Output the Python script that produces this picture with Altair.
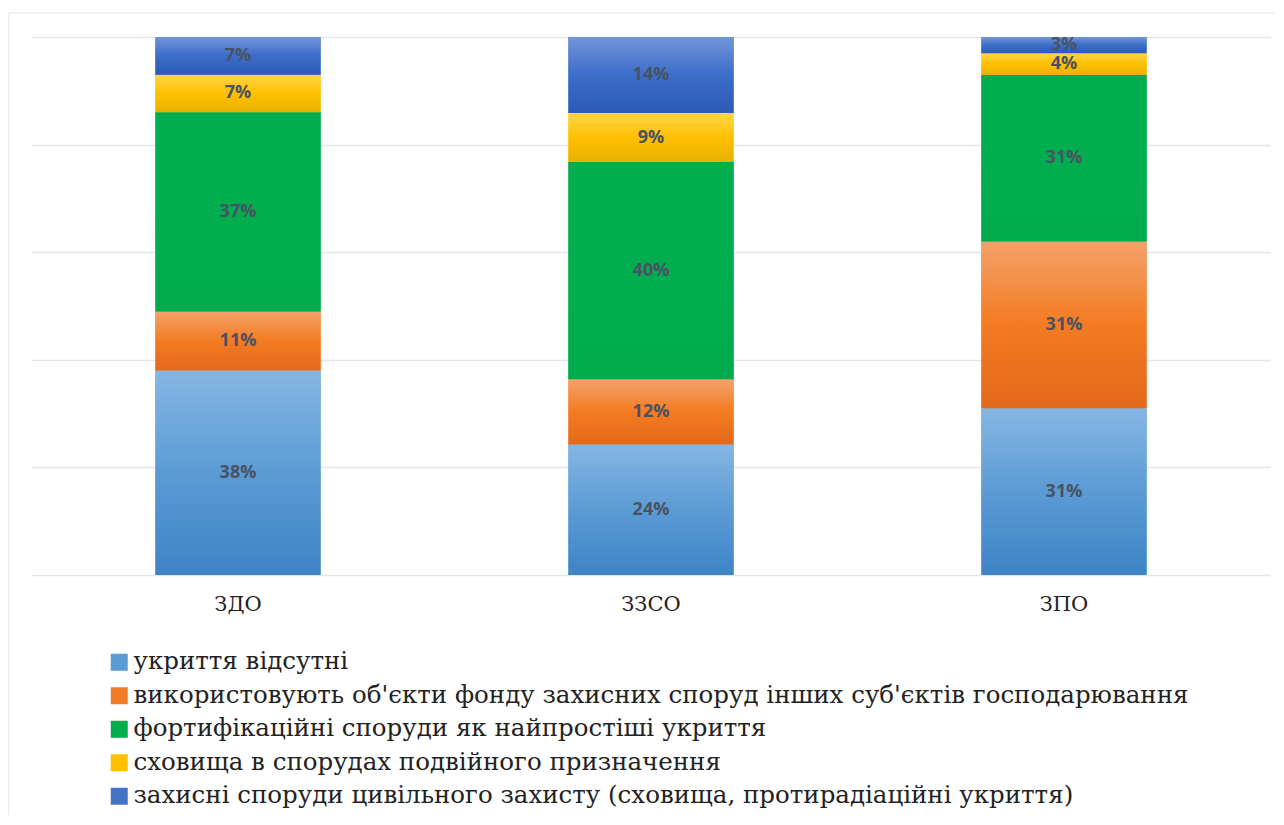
import altair as alt
import pandas as pd

categories = ["ЗДО", "ЗЗСО", "ЗПО"]
series = [
    "укриття відсутні",
    "використовують об'єкти фонду захисних споруд інших суб'єктів господарювання",
    "фортифікаційні споруди як найпростіші укриття",
    "сховища в спорудах подвійного призначення",
    "захисні споруди цивільного захисту (сховища, протирадіаційні укриття)",
]
no_shelter = [38, 24, 31]
other_owners = [11, 12, 31]
fortification = [37, 40, 31]
dual_purpose = [7, 9, 4]
civil_defense = [7, 14, 3]

colors = ["#5b9bd5", "#f07c28", "#00ad4f", "#ffc000", "#4472c4"]
grad_stops = [
    ["#86b6e3", "#5b9bd5", "#3d84c6"],
    ["#f4a26b", "#f37b22", "#e2691a"],
    ["#00ad4f", "#00ad4f", "#00ab4d"],
    ["#ffd54c", "#ffc000", "#e9b000"],
    ["#7295d9", "#3b6dc9", "#2d5bb7"],
]

all_vals = [no_shelter, other_owners, fortification, dual_purpose, civil_defense]
rows = []
for si, (s, vals) in enumerate(zip(series, all_vals)):
    for c, v in zip(categories, vals):
        rows.append({"cat": c, "series": s, "order": si, "value": v})
df = pd.DataFrame(rows)

SERIF = "'DejaVu Serif', 'Liberation Serif', serif"

base = alt.Chart(df).transform_stack(
    stack="value",
    groupby=["cat"],
    sort=[alt.SortField("order", order="ascending")],
    offset="normalize",
    as_=["y0", "y1"],
).transform_calculate(
    ym="(datum.y0 + datum.y1) / 2",
    lab="datum.value + '%'",
)

x_enc = alt.X(
    "cat:N",
    sort=categories,
    scale=alt.Scale(paddingInner=0.6, paddingOuter=0.3),
    axis=alt.Axis(
        title=None, labelAngle=0, labelFont=SERIF, labelFontSize=21,
        labelColor="#222222", labelPadding=18, ticks=False, domain=False, grid=False,
    ),
)
y_scale = alt.Scale(domain=[0, 1], nice=False)
y_axis = alt.Axis(
    title=None, labels=False, ticks=False, domain=False,
    values=[0, 0.2, 0.4, 0.6, 0.8, 1], gridColor="#e3e6ec", gridWidth=1.5,
)

legend_layer = base.mark_bar().encode(
    x=x_enc,
    y=alt.Y("y0:Q", scale=y_scale, axis=y_axis),
    y2="y1:Q",
    color=alt.Color(
        "series:N",
        sort=series,
        scale=alt.Scale(domain=series, range=colors),
        legend=alt.Legend(
            title=None, orient="none", legendX=75.5, legendY=613,
            direction="vertical", symbolType="square", symbolSize=289,
            symbolStrokeWidth=0, labelFont=SERIF, labelFontSize=24.5,
            labelColor="#222222", labelOffset=2, rowPadding=8.5, labelLimit=1300,
        ),
    ),
)

layers = [legend_layer]
for s, st in zip(series, grad_stops):
    grad = alt.Gradient(
        gradient="linear",
        stops=[
            alt.GradientStop(offset=0, color=st[0]),
            alt.GradientStop(offset=0.5, color=st[1]),
            alt.GradientStop(offset=1, color=st[2]),
        ],
        x1=0, x2=0, y1=0, y2=1,
    )
    layers.append(
        base.transform_filter(alt.datum.series == s)
        .mark_bar(color=grad)
        .encode(x=x_enc, y=alt.Y("y0:Q", scale=y_scale, axis=y_axis), y2="y1:Q")
    )

text_layer = base.mark_text(
    font="Open Sans", fontWeight="bold", fontSize=18, color="#4a5262"
).encode(x=x_enc, y=alt.Y("ym:Q", scale=y_scale, axis=y_axis), text="lab:N")
layers.append(text_layer)

frame_df = pd.DataFrame({"a": [0]})
top_rule = alt.Chart(frame_df).mark_rule(color="#ececec", strokeWidth=1.5).encode(
    x=alt.value(-23), x2=alt.value(1260), y=alt.value(-24)
)
left_rule = alt.Chart(frame_df).mark_rule(color="#ececec", strokeWidth=1.5).encode(
    x=alt.value(-23), y=alt.value(-24), y2=alt.value(800)
)
layers = [top_rule, left_rule] + layers

chart = alt.layer(*layers).properties(
    width=1239,
    height=538,
    autosize=alt.AutoSizeParams(type="none"),
    padding={"left": 23.5, "top": 29, "right": 3, "bottom": 240},
    background="white",
).configure_view(strokeWidth=0)

chart.save("out.html", embed_options={"renderer": "svg", "actions": False})
